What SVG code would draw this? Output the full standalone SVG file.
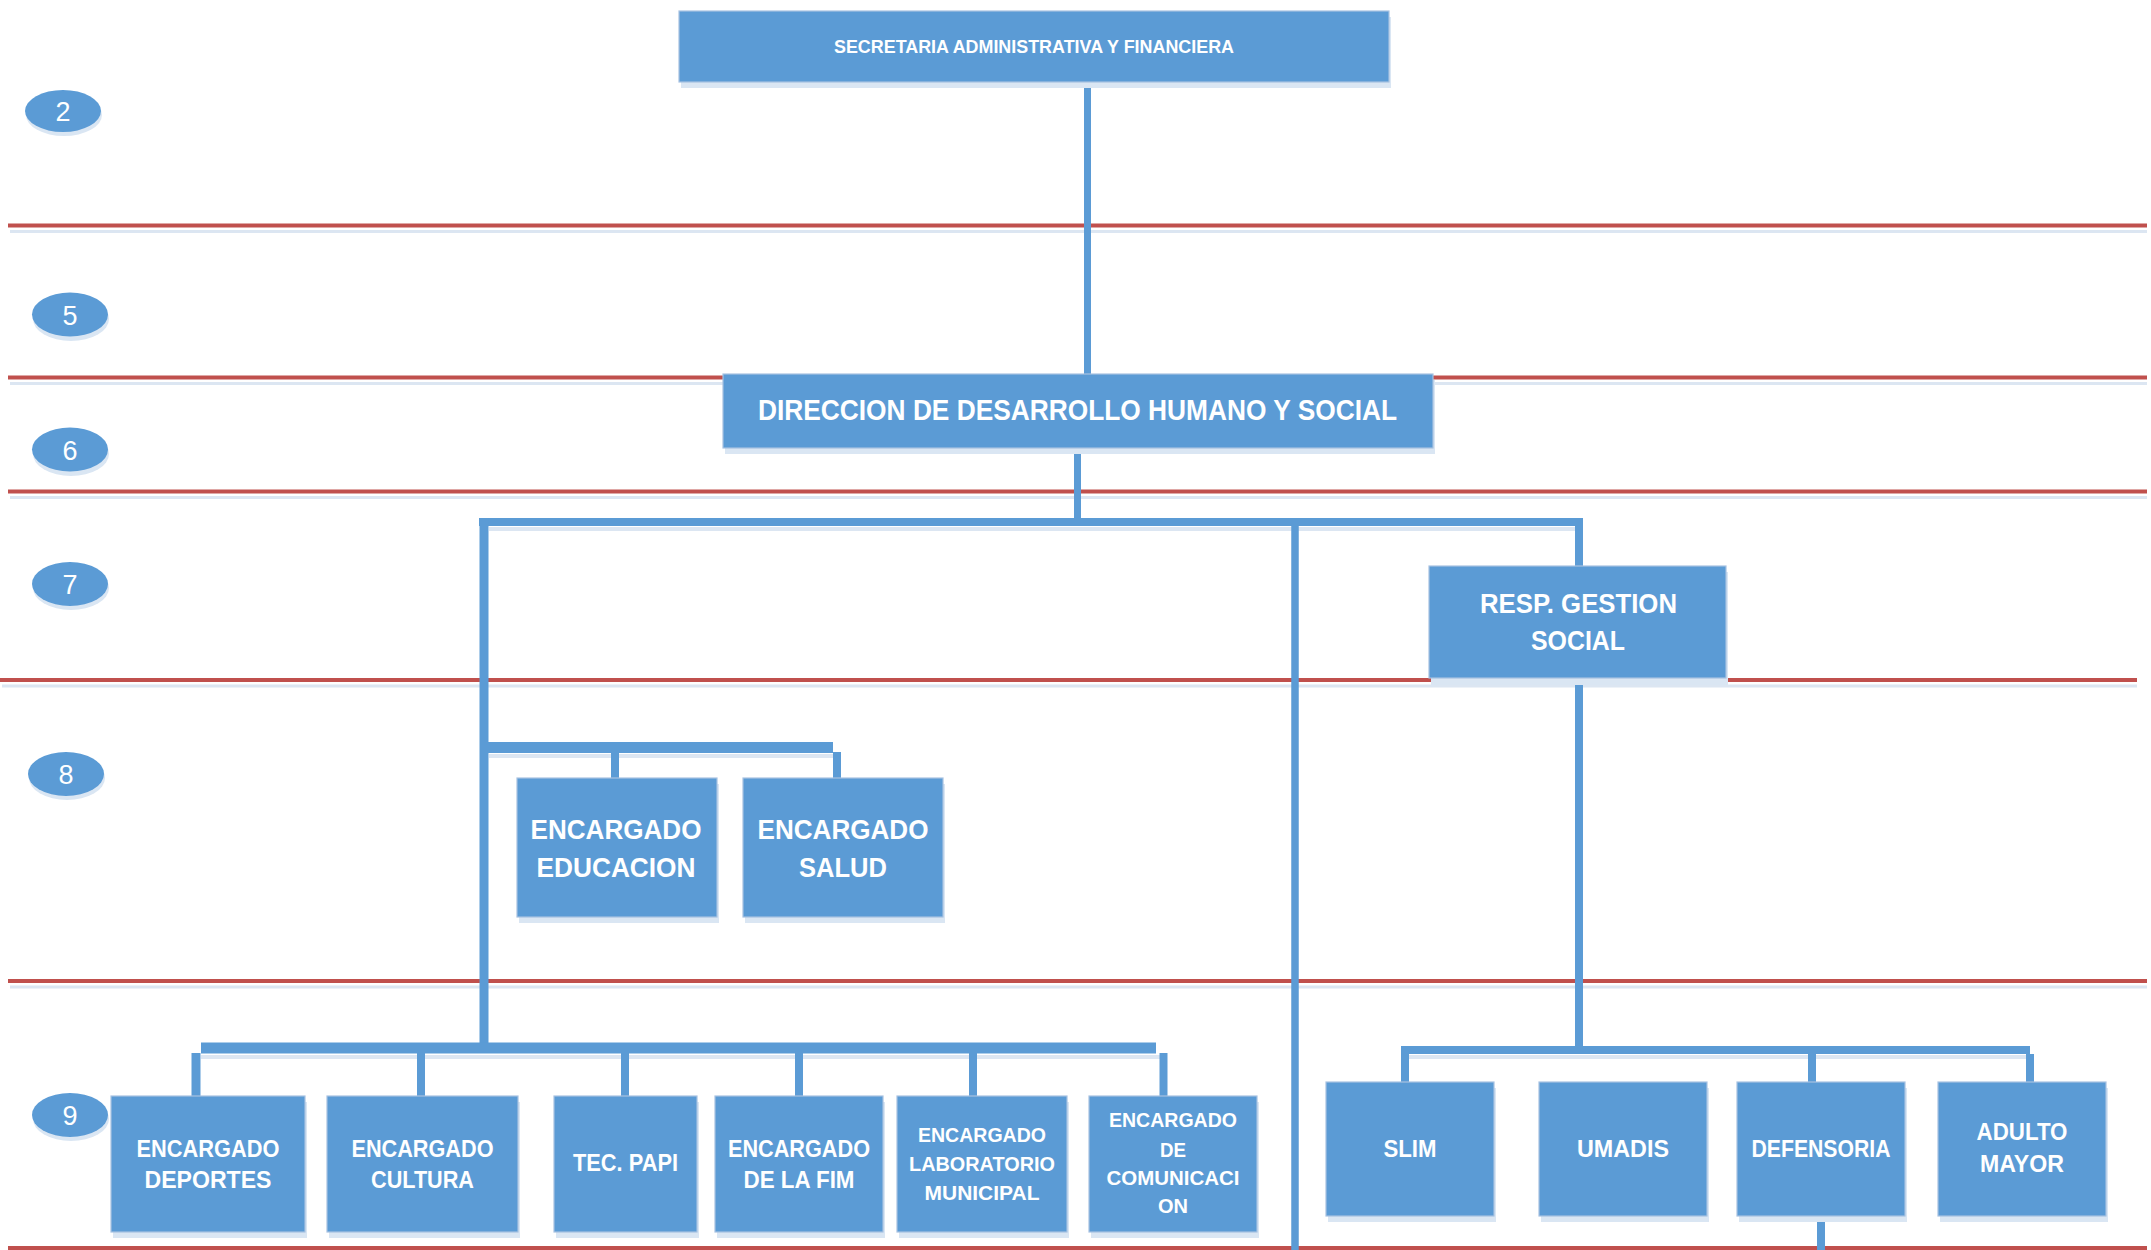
<svg xmlns="http://www.w3.org/2000/svg" width="2151" height="1250" viewBox="0 0 2151 1250">
<style>
.box{fill:#5B9BD5;stroke:#A7C2E2;stroke-width:1.2}
.sh{fill:#DAE6F3}
.t{font-family:"Liberation Sans",Arial,sans-serif;font-weight:bold;fill:#FFFFFF;text-anchor:middle}
.f9{font-size:23.5px}
.f9s{font-size:21px}
.f8{font-size:27.5px}
.num{font-family:"Liberation Sans",Arial,sans-serif;fill:#FFFFFF;text-anchor:middle;font-size:27px}
.conn line{stroke:#5B9BD5;stroke-linecap:butt}
.connsh line{stroke:#DCE6F2;stroke-linecap:butt}
.guide{stroke:#C0504D;stroke-width:4}
.guidesh{stroke:#DCE6F2;stroke-width:3}
.ell{fill:#5B9BD5}
.ellsh{fill:#DAE6F3}
</style>
<rect width="2151" height="1250" fill="#FFFFFF"/>

<g id="guides">
  <line class="guidesh" x1="10" y1="231.5" x2="2147" y2="231.5"/>
  <line class="guide" x1="8" y1="225.5" x2="2147" y2="225.5"/>
  <line class="guidesh" x1="10" y1="383.5" x2="2147" y2="383.5"/>
  <line class="guide" x1="8" y1="377.5" x2="2147" y2="377.5"/>
  <line class="guidesh" x1="10" y1="497.5" x2="2147" y2="497.5"/>
  <line class="guide" x1="8" y1="491.5" x2="2147" y2="491.5"/>
  <line class="guidesh" x1="2" y1="686" x2="2137" y2="686"/>
  <line class="guide" x1="0" y1="680" x2="2137" y2="680"/>
  <line class="guidesh" x1="10" y1="987" x2="2147" y2="987"/>
  <line class="guide" x1="8" y1="981" x2="2147" y2="981"/>
  <line class="guide" x1="8" y1="1248" x2="2147" y2="1248"/>
</g>

<g id="levels">
  <g id="level-2">
    <ellipse class="ellsh" cx="64" cy="115" rx="38" ry="21"/>
    <ellipse class="ell" cx="63" cy="111" rx="38" ry="21"/>
    <text class="num" x="63" y="121">2</text>
  </g>
  <g id="level-5">
    <ellipse class="ellsh" cx="71" cy="319" rx="38" ry="22"/>
    <ellipse class="ell" cx="70" cy="314.5" rx="38" ry="22"/>
    <text class="num" x="70" y="325">5</text>
  </g>
  <g id="level-6">
    <ellipse class="ellsh" cx="71" cy="454" rx="38" ry="22"/>
    <ellipse class="ell" cx="70" cy="449.5" rx="38" ry="22"/>
    <text class="num" x="70" y="460">6</text>
  </g>
  <g id="level-7">
    <ellipse class="ellsh" cx="71" cy="588" rx="38" ry="22"/>
    <ellipse class="ell" cx="70" cy="584" rx="38" ry="22"/>
    <text class="num" x="70" y="594">7</text>
  </g>
  <g id="level-8">
    <ellipse class="ellsh" cx="67" cy="778" rx="38" ry="22"/>
    <ellipse class="ell" cx="66" cy="774" rx="38" ry="22"/>
    <text class="num" x="66" y="784">8</text>
  </g>
  <g id="level-9">
    <ellipse class="ellsh" cx="71" cy="1119" rx="38" ry="22"/>
    <ellipse class="ell" cx="70" cy="1115" rx="38" ry="22"/>
    <text class="num" x="70" y="1125">9</text>
  </g>
</g>

<g id="connectors">
  <g class="connsh">
    <line x1="489" y1="529" x2="1579" y2="529" stroke-width="4"/>
    <line x1="489" y1="756" x2="840" y2="756" stroke-width="4"/>
    <line x1="201" y1="1057" x2="1160" y2="1057" stroke-width="4"/>
    <line x1="1409" y1="1057" x2="2030" y2="1057" stroke-width="4"/>
  </g>
  <g class="conn">
    <line x1="1087.5" y1="82" x2="1087.5" y2="374" stroke-width="7"/>
    <line x1="1077.5" y1="448" x2="1077.5" y2="526" stroke-width="7"/>
    <line x1="479" y1="522" x2="1579" y2="522" stroke-width="8"/>
    <line x1="484" y1="518" x2="484" y2="1053" stroke-width="9"/>
    <line x1="1295" y1="518" x2="1295" y2="1250" stroke-width="7.5"/>
    <line x1="1579" y1="518" x2="1579" y2="566" stroke-width="8"/>
    <line x1="1579" y1="678" x2="1579" y2="1054" stroke-width="8"/>
    <line x1="488" y1="747.5" x2="833" y2="747.5" stroke-width="11"/>
    <line x1="615" y1="753" x2="615" y2="778" stroke-width="8"/>
    <line x1="837" y1="752" x2="837" y2="778" stroke-width="8"/>
    <line x1="201" y1="1048" x2="1156" y2="1048" stroke-width="11"/>
    <line x1="196" y1="1053" x2="196" y2="1096" stroke-width="9"/>
    <line x1="421" y1="1053" x2="421" y2="1096" stroke-width="8"/>
    <line x1="625" y1="1053" x2="625" y2="1096" stroke-width="8"/>
    <line x1="799" y1="1053" x2="799" y2="1096" stroke-width="8"/>
    <line x1="973" y1="1053" x2="973" y2="1096" stroke-width="8"/>
    <line x1="1163.5" y1="1053" x2="1163.5" y2="1096" stroke-width="8"/>
    <line x1="1401" y1="1050" x2="2030" y2="1050" stroke-width="8"/>
    <line x1="1405" y1="1050" x2="1405" y2="1082" stroke-width="8"/>
    <line x1="1812" y1="1054" x2="1812" y2="1082" stroke-width="8"/>
    <line x1="2030" y1="1054" x2="2030" y2="1082" stroke-width="8"/>
    <line x1="1821" y1="1216" x2="1821" y2="1250" stroke-width="8"/>
  </g>
</g>

<g id="node-secretaria">
  <rect class="sh" x="681" y="17" width="710" height="71"/>
  <rect class="box" x="679" y="11" width="710" height="71"/>
  <text class="t" x="1034" y="53" font-size="18.5" textLength="400" lengthAdjust="spacingAndGlyphs">SECRETARIA ADMINISTRATIVA Y FINANCIERA</text>
</g>

<g id="node-direccion">
  <rect class="sh" x="725" y="380" width="710" height="74"/>
  <rect class="box" x="723" y="374" width="710" height="74"/>
  <text class="t" x="1077.5" y="420" font-size="29" textLength="639" lengthAdjust="spacingAndGlyphs">DIRECCION DE DESARROLLO HUMANO Y SOCIAL</text>
</g>

<g id="node-resp-gestion">
  <rect class="sh" x="1431" y="572" width="297" height="113"/>
  <rect class="box" x="1429" y="566" width="297" height="112"/>
  <text class="t" x="1578.5" y="613" font-size="27" textLength="197" lengthAdjust="spacingAndGlyphs">RESP. GESTION</text>
  <text class="t" x="1578" y="650" font-size="27" textLength="94" lengthAdjust="spacingAndGlyphs">SOCIAL</text>
</g>

<g id="node-educacion">
  <rect class="sh" x="519" y="784" width="200" height="139"/>
  <rect class="box" x="517" y="778" width="200" height="139"/>
  <text class="t f8" x="616" y="839" textLength="171" lengthAdjust="spacingAndGlyphs">ENCARGADO</text>
  <text class="t f8" x="616" y="877" textLength="159" lengthAdjust="spacingAndGlyphs">EDUCACION</text>
</g>

<g id="node-salud">
  <rect class="sh" x="745" y="784" width="200" height="139"/>
  <rect class="box" x="743" y="778" width="200" height="139"/>
  <text class="t f8" x="843" y="839" textLength="171" lengthAdjust="spacingAndGlyphs">ENCARGADO</text>
  <text class="t f8" x="843" y="877" textLength="88" lengthAdjust="spacingAndGlyphs">SALUD</text>
</g>

<g id="node-deportes">
  <rect class="sh" x="113" y="1102" width="194" height="136"/>
  <rect class="box" x="111" y="1096" width="194" height="136"/>
  <text class="t f9" x="208" y="1157" textLength="143" lengthAdjust="spacingAndGlyphs">ENCARGADO</text>
  <text class="t f9" x="208" y="1188" textLength="127" lengthAdjust="spacingAndGlyphs">DEPORTES</text>
</g>

<g id="node-cultura">
  <rect class="sh" x="329" y="1102" width="191" height="136"/>
  <rect class="box" x="327" y="1096" width="191" height="136"/>
  <text class="t f9" x="422.5" y="1157" textLength="142" lengthAdjust="spacingAndGlyphs">ENCARGADO</text>
  <text class="t f9" x="422.5" y="1188" textLength="103" lengthAdjust="spacingAndGlyphs">CULTURA</text>
</g>

<g id="node-tec-papi">
  <rect class="sh" x="556" y="1102" width="143" height="136"/>
  <rect class="box" x="554" y="1096" width="143" height="136"/>
  <text class="t f9" x="625.5" y="1171" textLength="105" lengthAdjust="spacingAndGlyphs">TEC. PAPI</text>
</g>

<g id="node-fim">
  <rect class="sh" x="717" y="1102" width="168" height="136"/>
  <rect class="box" x="715" y="1096" width="168" height="136"/>
  <text class="t f9" x="799" y="1157" textLength="142" lengthAdjust="spacingAndGlyphs">ENCARGADO</text>
  <text class="t f9" x="799" y="1188" textLength="111" lengthAdjust="spacingAndGlyphs">DE LA FIM</text>
</g>

<g id="node-laboratorio">
  <rect class="sh" x="899" y="1102" width="170" height="136"/>
  <rect class="box" x="897" y="1096" width="170" height="136"/>
  <text class="t f9s" x="982" y="1142" textLength="128" lengthAdjust="spacingAndGlyphs">ENCARGADO</text>
  <text class="t f9s" x="982" y="1171" textLength="146" lengthAdjust="spacingAndGlyphs">LABORATORIO</text>
  <text class="t f9s" x="982" y="1200" textLength="115" lengthAdjust="spacingAndGlyphs">MUNICIPAL</text>
</g>

<g id="node-comunicacion">
  <rect class="sh" x="1091" y="1102" width="168" height="136"/>
  <rect class="box" x="1089" y="1096" width="168" height="136"/>
  <text class="t f9s" x="1173" y="1127" textLength="128" lengthAdjust="spacingAndGlyphs">ENCARGADO</text>
  <text class="t f9s" x="1173" y="1157" textLength="26" lengthAdjust="spacingAndGlyphs">DE</text>
  <text class="t f9s" x="1173" y="1185" textLength="133" lengthAdjust="spacingAndGlyphs">COMUNICACI</text>
  <text class="t f9s" x="1173" y="1213" textLength="30" lengthAdjust="spacingAndGlyphs">ON</text>
</g>

<g id="node-slim">
  <rect class="sh" x="1328" y="1088" width="168" height="134"/>
  <rect class="box" x="1326" y="1082" width="168" height="134"/>
  <text class="t f9" x="1410" y="1157" textLength="53" lengthAdjust="spacingAndGlyphs">SLIM</text>
</g>

<g id="node-umadis">
  <rect class="sh" x="1541" y="1088" width="168" height="134"/>
  <rect class="box" x="1539" y="1082" width="168" height="134"/>
  <text class="t f9" x="1623" y="1157" textLength="92" lengthAdjust="spacingAndGlyphs">UMADIS</text>
</g>

<g id="node-defensoria">
  <rect class="sh" x="1739" y="1088" width="168" height="134"/>
  <rect class="box" x="1737" y="1082" width="168" height="134"/>
  <text class="t f9" x="1821" y="1157" textLength="139" lengthAdjust="spacingAndGlyphs">DEFENSORIA</text>
</g>

<g id="node-adulto-mayor">
  <rect class="sh" x="1940" y="1088" width="168" height="134"/>
  <rect class="box" x="1938" y="1082" width="168" height="134"/>
  <text class="t f9" x="2022" y="1140" textLength="91" lengthAdjust="spacingAndGlyphs">ADULTO</text>
  <text class="t f9" x="2022" y="1172" textLength="84" lengthAdjust="spacingAndGlyphs">MAYOR</text>
</g>
</svg>
